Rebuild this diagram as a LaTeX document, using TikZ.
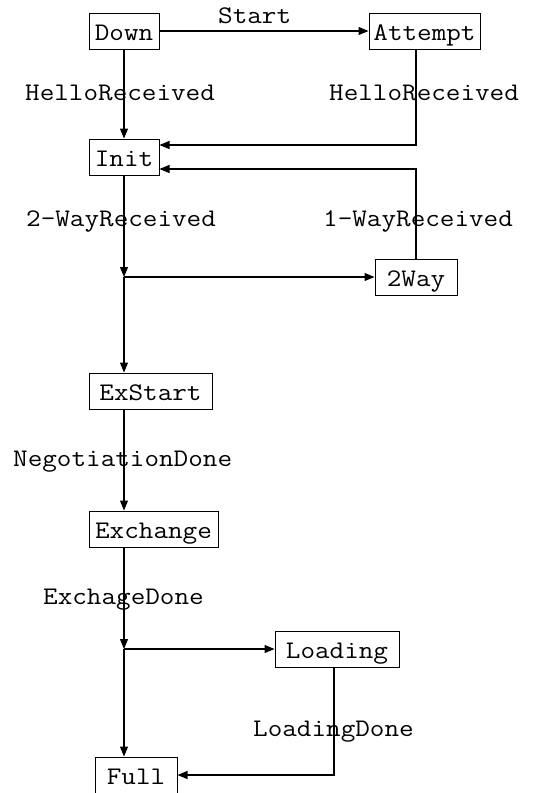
\documentclass[tikz,border=0pt]{standalone}
\usepackage{fontspec}
\setmonofont[FakeStretch=1.12]{Latin Modern Mono}
\usetikzlibrary{arrows.meta}
\begin{document}
\begin{tikzpicture}[x=1pt,y=-1pt,
  every node/.style={font=\ttfamily\fontsize{25.3}{28}\selectfont},
  state/.style={draw, line width=1pt, inner sep=0pt, minimum height=36pt,
                text height=19pt, text depth=0pt},
  lbl/.style={anchor=base west, inner sep=0pt},
  arr/.style={line width=1.1pt, -{Triangle[length=10pt,width=8pt]}}]
\useasboundingbox (0,0) rectangle (537,793);

% states
\node[state, minimum width=70pt]  (down)     at (124,31)    {Down};
\node[state, minimum width=111pt] (attempt)  at (424.5,31)  {Attempt};
\node[state, minimum width=70pt]  (init)     at (124,157)   {Init};
\node[state, minimum width=82pt]  (twoway)   at (416,277)   {2Way};
\node[state, minimum width=123pt] (exstart)  at (150.5,391) {ExStart};
\node[state, minimum width=129pt] (exchange) at (153.5,529) {Exchange};
\node[state, minimum width=124pt] (loading)  at (337,649)   {Loading};
\node[state, minimum width=82pt]  (full)     at (136,775)   {Full};

% branch points on the main line
\coordinate (j1) at (init.south |- twoway.west);
\coordinate (j2) at (init.south |- loading.west);

% transitions
\draw[arr] (down) -- (attempt);
\draw[arr] (down) -- (init);
\draw[arr] (attempt.south -| twoway.north) |- ([yshift=12pt]init.east);
\draw[arr] (twoway.north) |- ([yshift=-12pt]init.east);
\draw[arr] (init) -- (j1);
\draw[arr] (j1) -- (twoway);
\draw[arr] (j1) -- (exstart.north -| j1);
\draw[arr] (exstart.south -| j1) -- (exchange.north -| j1);
\draw[arr] (exchange.south -| j1) -- (j2);
\draw[arr] (j2) -- (loading);
\draw[arr] (j2) -- (full.north -| j2);
\draw[arr] ([xshift=-3pt]loading.south) |- (full.east);

% event labels
\node[lbl] (lstart)  at (218,23)  {Start};
\node[lbl] (lhello1) at (25,100)  {HelloReceived};
\node[lbl] (lhello2) at (329,100) {HelloReceived};
\node[lbl] (l2way)   at (26,226)  {2-WayReceived};
\node[lbl] (l1way)   at (323,226) {1-WayReceived};
\node[lbl] (lneg)    at (13,466)  {NegotiationDone};
\node[lbl] (lexdone) at (43,604)  {ExchageDone};
\node[lbl] (lload)   at (253,736) {LoadingDone};
\end{tikzpicture}
\end{document}
